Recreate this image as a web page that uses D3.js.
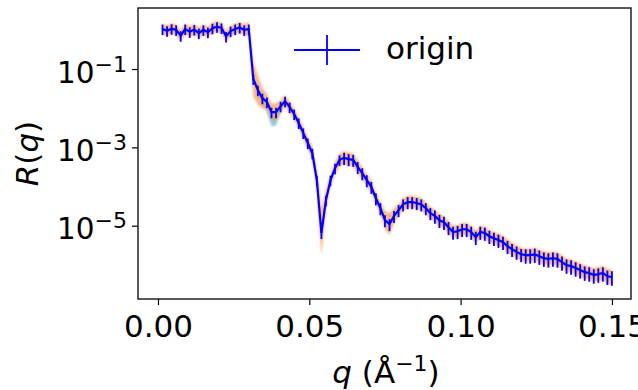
<!DOCTYPE html>
<html>
<head>
<meta charset="utf-8">
<script src="https://cdn.jsdelivr.net/npm/d3@7"></script>
<style>
  body { margin: 0; background: #fff; }
  svg { font-family: "DejaVu Sans", sans-serif; }
</style>
</head>
<body>
<div id="chart"></div>
<script>
// momentum transfer q (1/Å)
const q = [
  0.0015, 0.0030, 0.0045, 0.0060, 0.0075, 0.0090, 0.0105, 0.0120, 0.0135, 0.0150,
  0.0165, 0.0180, 0.0195, 0.0210, 0.0225, 0.0240, 0.0255, 0.0270, 0.0285, 0.0300,
  0.0315, 0.0330, 0.0345, 0.0360, 0.0375, 0.0390, 0.0405, 0.0420, 0.0435, 0.0450,
  0.0465, 0.0480, 0.0495, 0.0510, 0.0525, 0.0540, 0.0555, 0.0570, 0.0585, 0.0600,
  0.0615, 0.0630, 0.0645, 0.0660, 0.0675, 0.0690, 0.0705, 0.0720, 0.0735, 0.0750,
  0.0765, 0.0780, 0.0795, 0.0810, 0.0825, 0.0840, 0.0855, 0.0870, 0.0885, 0.0900,
  0.0915, 0.0930, 0.0945, 0.0960, 0.0975, 0.0990, 0.1005, 0.1020, 0.1035, 0.1050,
  0.1065, 0.1080, 0.1095, 0.1110, 0.1125, 0.1140, 0.1155, 0.1170, 0.1185, 0.1200,
  0.1215, 0.1230, 0.1245, 0.1260, 0.1275, 0.1290, 0.1305, 0.1320, 0.1335, 0.1350,
  0.1365, 0.1380, 0.1395, 0.1410, 0.1425, 0.1440, 0.1455, 0.1470, 0.1485, 0.1500
];

// reflectivity R(q) of "origin"
const R = [
  1.05, 0.95, 1.07, 1.00, 0.71, 1.05, 0.89, 1.02, 0.83, 1.00,
  0.87, 1.10, 1.20, 1.12, 0.68, 0.93, 1.05, 1.15, 1.00, 1.05,
  5.6e-2, 2.9e-2, 1.8e-2, 1.45e-2, 7.9e-3, 7.9e-3, 1.12e-2, 1.51e-2, 1.07e-2, 7.1e-3,
  4.2e-3, 2.34e-3, 1.29e-3, 7.1e-4, 1.45e-4, 6.5e-6, 4.5e-5, 1.45e-4, 2.95e-4, 4.8e-4,
  5.4e-4, 5.0e-4, 4.8e-4, 3.16e-4, 2.19e-4, 1.45e-4, 9.8e-5, 5.0e-5, 2.8e-5, 1.38e-5,
  1.10e-5, 1.78e-5, 2.5e-5, 3.5e-5, 4.0e-5, 4.0e-5, 3.8e-5, 3.5e-5, 2.8e-5, 2.1e-5,
  1.78e-5, 1.38e-5, 1.23e-5, 9.1e-6, 6.9e-6, 7.2e-6, 8.1e-6, 8.1e-6, 6.9e-6, 5.1e-6,
  6.9e-6, 6.5e-6, 5.4e-6, 4.8e-6, 4.3e-6, 3.8e-6, 3.0e-6, 2.5e-6, 2.14e-6, 1.86e-6,
  1.78e-6, 1.78e-6, 1.86e-6, 1.66e-6, 1.48e-6, 1.41e-6, 1.48e-6, 1.41e-6, 1.17e-6, 9.8e-7,
  9.3e-7, 8.3e-7, 7.4e-7, 6.5e-7, 6.2e-7, 5.5e-7, 5.8e-7, 6.2e-7, 5.1e-7, 4.9e-7
];

// relative error dR/R
const relErr = [
  0.30, 0.30, 0.30, 0.30, 0.30, 0.30, 0.30, 0.30, 0.30, 0.30,
  0.30, 0.30, 0.30, 0.30, 0.30, 0.30, 0.30, 0.30, 0.30, 0.30,
  0.30, 0.30, 0.30, 0.30, 0.30, 0.30, 0.30, 0.30, 0.30, 0.30,
  0.30, 0.30, 0.30, 0.30, 0.30, 0.30, 0.30, 0.30, 0.30, 0.30,
  0.34, 0.34, 0.34, 0.34, 0.34, 0.34, 0.34, 0.34, 0.34, 0.34,
  0.34, 0.34, 0.34, 0.34, 0.34, 0.34, 0.34, 0.34, 0.34, 0.34,
  0.37, 0.37, 0.37, 0.37, 0.37, 0.37, 0.37, 0.37, 0.37, 0.37,
  0.37, 0.37, 0.37, 0.37, 0.37, 0.37, 0.37, 0.37, 0.37, 0.37,
  0.40, 0.40, 0.40, 0.40, 0.40, 0.40, 0.40, 0.40, 0.40, 0.40,
  0.40, 0.40, 0.40, 0.40, 0.40, 0.40, 0.40, 0.40, 0.40, 0.40
];

// half width (decades) of the orange model band
const orangeSpread = [
  0.14, 0.14, 0.14, 0.14, 0.14, 0.14, 0.14, 0.14, 0.14, 0.14,
  0.14, 0.14, 0.14, 0.14, 0.14, 0.14, 0.14, 0.14, 0.14, 0.18,
  0.45, 0.38, 0.26, 0.20, 0.22, 0.22, 0.16, 0.15, 0.15, 0.15,
  0.15, 0.16, 0.16, 0.18, 0.32, 0.60, 0.28, 0.16, 0.16, 0.17,
  0.17, 0.17, 0.17, 0.17, 0.16, 0.16, 0.16, 0.16, 0.18, 0.24,
  0.28, 0.20, 0.16, 0.16, 0.16, 0.16, 0.16, 0.16, 0.16, 0.16,
  0.16, 0.16, 0.16, 0.16, 0.16, 0.16, 0.16, 0.16, 0.16, 0.16,
  0.16, 0.16, 0.16, 0.16, 0.16, 0.17, 0.17, 0.17, 0.17, 0.17,
  0.17, 0.17, 0.17, 0.17, 0.17, 0.17, 0.17, 0.17, 0.17, 0.17,
  0.17, 0.17, 0.17, 0.17, 0.17, 0.17, 0.18, 0.18, 0.19, 0.19
];
// depth (decades) of the teal model band below the data
const tealDepth = [
  0.05, 0.05, 0.05, 0.05, 0.05, 0.05, 0.05, 0.05, 0.05, 0.05,
  0.05, 0.05, 0.05, 0.05, 0.05, 0.05, 0.05, 0.05, 0.05, 0.05,
  0.05, 0.10, 0.16, 0.24, 0.36, 0.34, 0.14, 0.06, 0.05, 0.05,
  0.05, 0.05, 0.05, 0.05, 0.05, 0.05, 0.05, 0.05, 0.05, 0.05,
  0.05, 0.05, 0.05, 0.05, 0.05, 0.05, 0.05, 0.05, 0.05, 0.05,
  0.05, 0.05, 0.05, 0.05, 0.05, 0.05, 0.05, 0.05, 0.05, 0.05,
  0.10, 0.10, 0.05, 0.05, 0.05, 0.05, 0.05, 0.05, 0.05, 0.05,
  0.05, 0.05, 0.05, 0.05, 0.05, 0.05, 0.05, 0.05, 0.05, 0.05,
  0.05, 0.05, 0.05, 0.05, 0.05, 0.05, 0.05, 0.05, 0.05, 0.05,
  0.05, 0.05, 0.05, 0.05, 0.05, 0.05, 0.05, 0.05, 0.05, 0.05
];

const xTicks = [0, 0.05, 0.10, 0.15];
const yTicks = [1e-1, 1e-3, 1e-5];
const yTickExp = ['\u22121', '\u22123', '\u22125'];
const legendLabel = 'origin';

const width = 638, height = 390;
const margin = { top: 8, right: 7, bottom: 91, left: 138 };
const font = '"DejaVu Sans", sans-serif';

const data = q.map((d, i) => ({
  q: d, R: R[i], err: R[i] * relErr[i],
  oLo: R[i] / Math.pow(10, orangeSpread[i]), oHi: R[i] * Math.pow(10, orangeSpread[i]),
  tLo: R[i] / Math.pow(10, tealDepth[i])
}));

const svg = d3.select('#chart').append('svg')
  .attr('width', width)
  .attr('height', height);

const x = d3.scaleLinear()
  .domain([-0.0066, 0.1563])
  .range([margin.left, width - margin.right]);

const y = d3.scaleLog()
  .domain([Math.pow(10, -6.872), Math.pow(10, 0.558)])
  .range([height - margin.bottom, margin.top]);

const defs = svg.append('defs');
defs.append('clipPath').attr('id', 'plot-clip')
  .append('rect')
  .attr('x', margin.left).attr('y', margin.top)
  .attr('width', width - margin.left - margin.right)
  .attr('height', height - margin.top - margin.bottom);
defs.append('filter').attr('id', 'soft')
  .append('feGaussianBlur').attr('stdDeviation', 1.0);

const plot = svg.append('g').attr('clip-path', 'url(#plot-clip)');

// bands
plot.append('path')
  .datum(data)
  .attr('fill', '#3fa9bf')
  .attr('fill-opacity', 0.6)
  .attr('filter', 'url(#soft)')
  .attr('d', d3.area().x(d => x(d.q)).y0(d => y(d.tLo)).y1(d => y(d.R)));

plot.append('path')
  .datum(data)
  .attr('fill', '#f59a50')
  .attr('fill-opacity', 0.7)
  .attr('filter', 'url(#soft)')
  .attr('d', d3.area().x(d => x(d.q)).y0(d => y(d.oLo)).y1(d => y(d.oHi)));

// data line
plot.append('path')
  .datum(data)
  .attr('fill', 'none')
  .attr('stroke', '#0000ff')
  .attr('stroke-width', 2.2)
  .attr('d', d3.line().x(d => x(d.q)).y(d => y(d.R)));

// error bars
plot.selectAll('.err')
  .data(data)
  .enter().append('line')
  .attr('class', 'err')
  .attr('x1', d => x(d.q)).attr('x2', d => x(d.q))
  .attr('y1', d => y(d.R + d.err))
  .attr('y2', d => y(Math.max(d.R - d.err, 1e-9)))
  .attr('stroke', '#0000ff')
  .attr('stroke-width', 1.8);

// axes
const xAxis = svg.append('g')
  .attr('transform', 'translate(0,' + (height - margin.bottom) + ')')
  .call(d3.axisBottom(x).tickValues(xTicks).tickFormat(d3.format('.2f')).tickSize(6).tickSizeOuter(0))
  .attr('font-family', font);
xAxis.selectAll('text')
  .attr('y', 38).attr('dy', 0)
  .attr('fill', '#000')
  .style('font-size', '31px');

const yAxis = svg.append('g')
  .attr('transform', 'translate(' + margin.left + ',0)')
  .call(d3.axisLeft(y).tickValues(yTicks).tickFormat('').tickSize(6).tickSizeOuter(0))
  .attr('font-family', font);
yAxis.selectAll('.tick').each(function (d, i) {
  const t = d3.select(this).append('text')
    .attr('x', -11).attr('y', 13)
    .attr('text-anchor', 'end')
    .attr('fill', '#000')
    .style('font-size', '29.5px');
  t.append('tspan').text('10');
  t.append('tspan').attr('dy', -11).style('font-size', '22px').text(yTickExp[i]);
});

svg.selectAll('.domain').remove();
svg.selectAll('.tick line').attr('stroke', '#000').attr('stroke-width', 1.2);

// frame
svg.append('rect')
  .attr('x', margin.left).attr('y', margin.top)
  .attr('width', width - margin.left - margin.right)
  .attr('height', height - margin.top - margin.bottom)
  .attr('fill', 'none')
  .attr('stroke', '#222')
  .attr('stroke-width', 1.5);

// axis labels
const xl = svg.append('text')
  .attr('x', 386).attr('y', 383)
  .attr('text-anchor', 'middle')
  .style('font-size', '31px');
xl.append('tspan').style('font-style', 'italic').text('q');
xl.append('tspan').text(' (\u00c5');
xl.append('tspan').attr('dy', -12).style('font-size', '22px').text('\u22121');
xl.append('tspan').attr('dy', 12).text(')');

const yl = svg.append('text')
  .attr('transform', 'translate(38,' + (margin.top + (height - margin.top - margin.bottom) / 2) + ') rotate(-90)')
  .attr('text-anchor', 'middle')
  .style('font-size', '31px');
yl.append('tspan').style('font-style', 'italic').text('R');
yl.append('tspan').text('(');
yl.append('tspan').style('font-style', 'italic').text('q');
yl.append('tspan').text(')');

// legend
const lg = svg.append('g');
lg.append('line')
  .attr('x1', 294).attr('x2', 360).attr('y1', 50).attr('y2', 50)
  .attr('stroke', '#0000ff').attr('stroke-width', 1.8);
lg.append('line')
  .attr('x1', 327).attr('x2', 327).attr('y1', 35).attr('y2', 65)
  .attr('stroke', '#0000ff').attr('stroke-width', 1.8);
lg.append('text')
  .attr('x', 386).attr('y', 59)
  .style('font-size', '31px')
  .text(legendLabel);
</script>
</body>
</html>
